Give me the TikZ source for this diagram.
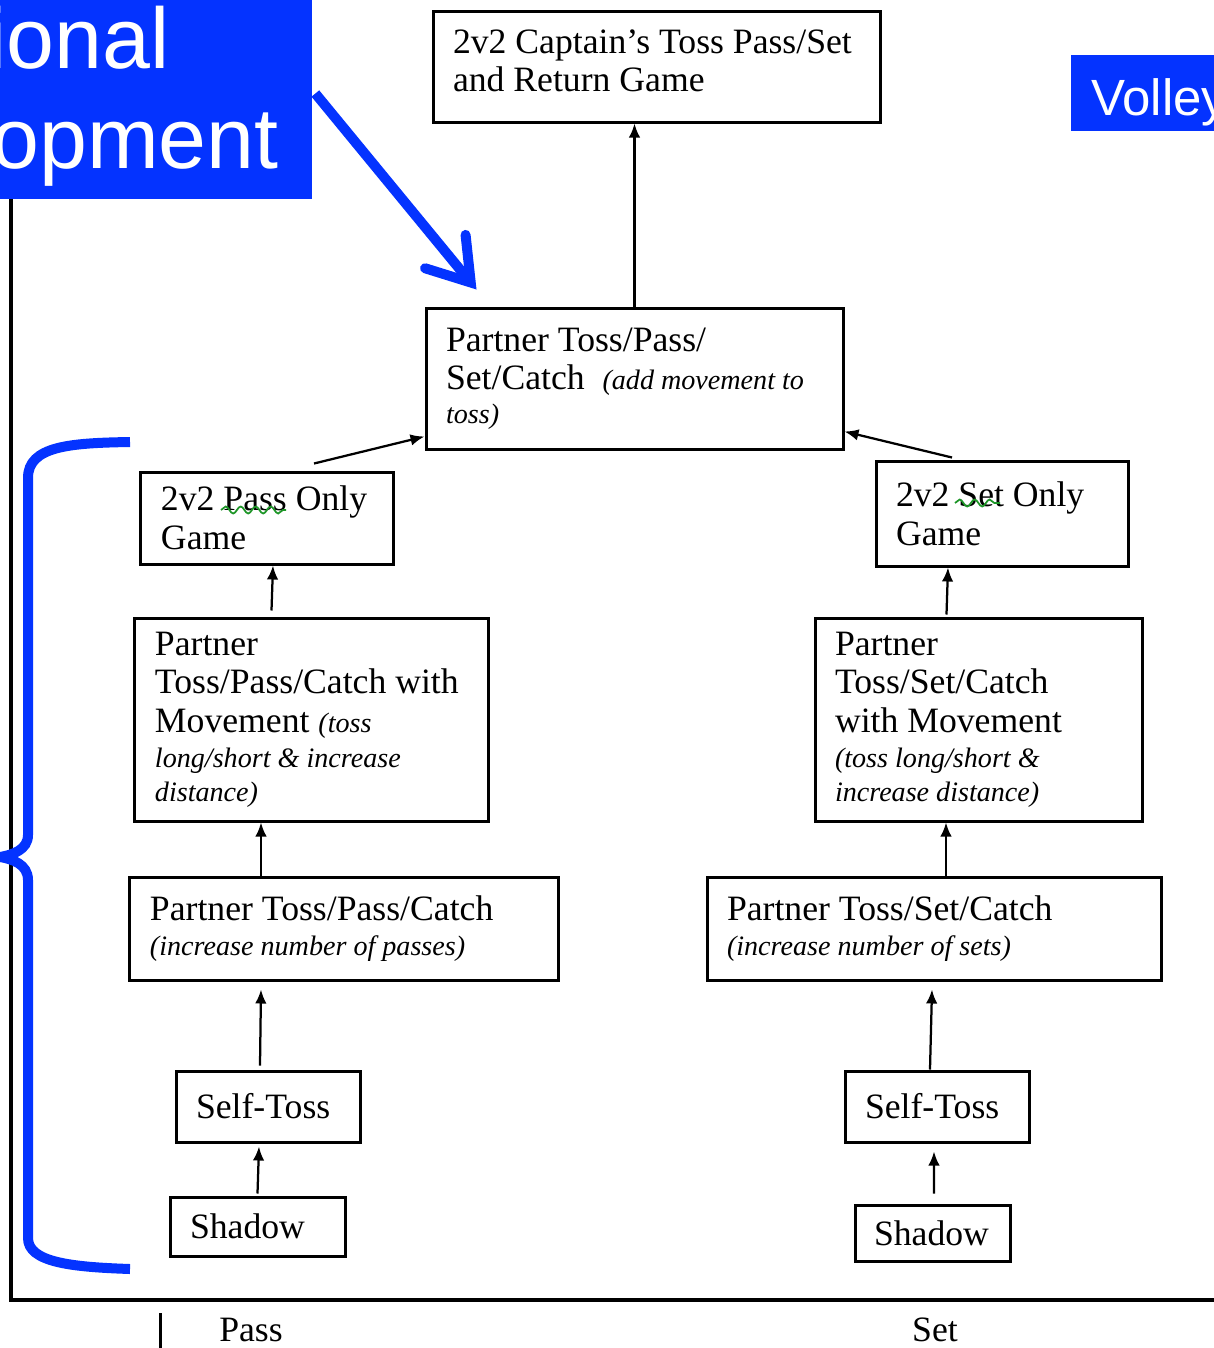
\documentclass[tikz,border=0pt]{standalone}
\usepackage{fontspec}
\setmainfont{Liberation Serif}
\setsansfont{Liberation Sans}
\usepackage{tikz}
\usetikzlibrary{arrows.meta}
\usetikzlibrary{decorations.pathmorphing}
\usepackage{xcolor}
\definecolor{slideblue}{RGB}{4,51,255}
\definecolor{spellgreen}{RGB}{30,150,40}
\newcommand{\itnote}[1]{{\fontsize{16}{19}\selectfont\itshape #1}}

\begin{document}
\begin{tikzpicture}[x=0.2mm,y=-0.2mm]
  \tikzset{
    stage/.style={
      draw,
      rectangle,
      line width=0.6mm,
      inner xsep=4mm,
      inner ysep=0pt,
      align=flush left,
      font=\fontsize{20.3}{22}\selectfont
    },
    link/.style={
      draw,
      line width=0.45mm,
      -{Latex[length=2.8mm,width=2.3mm]}
    },
    banner/.style={
      fill=slideblue,
      inner sep=0pt
    },
    bannertext/.style={
      text=white,
      inner sep=0pt,
      font=\sffamily\fontsize{49}{49}\selectfont
    },
    pointer/.style={
      draw=slideblue,
      line width=2mm,
      -{Straight Barb[length=8mm,width=10.5mm,line cap=round]}
    },
    bracket/.style={
      draw=slideblue,
      line width=2mm
    },
    spell/.style={
      draw=spellgreen,
      line width=0.35mm,
      decorate,
      decoration={snake, amplitude=0.7mm, segment length=3mm}
    }
  }

  \useasboundingbox (0,0) rectangle (1214,1348);
  \clip (0,0) rectangle (1214,1348);

  % axes
  \draw[line width=0.7mm] (11,190) -- (11,1300) -- (1214,1300);
  \draw[line width=0.6mm] (160,1313) -- (160,1348);
  \node[font=\fontsize{20.3}{22}\selectfont] (passlabel) at (251,1330) {Pass};
  \node[font=\fontsize{20.3}{22}\selectfont] (setlabel) at (935,1330) {Set};

  % slide banners
  \node[banner, minimum width=62.4mm, minimum height=39.8mm] (banner) at (156,99.5) {};
  \node[bannertext, anchor=base east] (bannerone) at (170,68) {ional};
  \node[bannertext, anchor=base east] (bannertwo) at (279,168) {opment};
  \node[banner, minimum width=37.8mm, minimum height=15.2mm] (volley) at (1165.5,93) {};
  \node[bannertext, anchor=base west, font=\sffamily\fontsize{29}{29}\selectfont] (volleytext) at (1091,115) {Volley};

  % stages
  \node[stage, minimum height=22.2mm, text width=81.4mm, text depth=28.5pt] (captain) at (656.5,66.5) {2v2 Captain's Toss Pass/Set\\and Return Game};
  \node[stage, minimum height=28.2mm, text width=75.4mm] (partner) at (634.5,378.5) {Partner Toss/Pass/\\Set/Catch\ \ \itnote{(add movement to}\\[-3pt]\itnote{toss)}};
  \node[stage, minimum height=18.4mm, text width=42.4mm] (passonly) at (267,518) {2v2 Pass Only\\Game};
  \node[stage, minimum height=21mm, text width=42.4mm] (setonly) at (1002,513.5) {2v2 Set Only\\Game};
  \node[stage, minimum height=40.6mm, text width=62.6mm] (passmove) at (311.5,719.5) {Partner\\Toss/Pass/Catch with\\Movement \itnote{(toss}\\[-2pt]\itnote{long/short \& increase}\\[-3pt]\itnote{distance)}};
  \node[stage, minimum height=40.6mm, text width=57.4mm] (setmove) at (978.5,719.5) {Partner\\Toss/Set/Catch\\with Movement\\[-2pt]\itnote{(toss long/short \&}\\[-3pt]\itnote{increase distance)}};
  \node[stage, minimum height=20.6mm, text width=77.6mm] (passpair) at (344,928.5) {Partner Toss/Pass/Catch\\[-2pt]\itnote{(increase number of passes)}};
  \node[stage, minimum height=20.6mm, text width=82.8mm] (setpair) at (934,928.5) {Partner Toss/Set/Catch\\[-2pt]\itnote{(increase number of sets)}};
  \node[stage, minimum height=14.2mm, text width=28.8mm] (passself) at (268,1106.5) {Self-Toss};
  \node[stage, minimum height=14.2mm, text width=28.8mm] (setself) at (937,1106.5) {Self-Toss};
  \node[stage, minimum height=11.8mm, text width=27mm] (passshadow) at (257.5,1226.5) {Shadow};
  \node[stage, minimum height=11.2mm, text width=23.4mm, inner xsep=3.8mm] (setshadow) at (932.5,1233) {Shadow};

  % arrows
  \draw[link] (partner.north) -- (partner.north |- captain.south);
  \draw[link] ([shift={(47,-7)}]passonly.north) -- ([shift={(0,-14)}]partner.south west);
  \draw[link] ([shift={(-50,-2)}]setonly.north) -- ([shift={(0,-19)}]partner.south east);
  \draw[link] ([shift={(-40,-6)}]passmove.north) -- ([shift={(6,0)}]passonly.south);
  \draw[link] ([shift={(-32,-2)}]setmove.north) -- ([shift={(-54,0)}]setonly.south);
  \draw[link] ([shift={(-83,0)}]passpair.north) -- ([shift={(-50.5,0)}]passmove.south);
  \draw[link] ([shift={(12,0)}]setpair.north) -- ([shift={(-32.5,0)}]setmove.south);
  \draw[link] ([shift={(-8,-4)}]passself.north) -- ([shift={(-83,8)}]passpair.south);
  \draw[link] ([shift={(-7,0)}]setself.north) -- ([shift={(-2,8)}]setpair.south);
  \draw[link] ([shift={(0,-2)}]passshadow.north) -- ([shift={(-9,3)}]passself.south);
  \draw[link] ([shift={(1.5,-10)}]setshadow.north) -- ([shift={(-3,8)}]setself.south);

  % blue markings
  \draw[pointer] ([shift={(3,-6)}]banner.east) -- ([shift={(52,-17)}]partner.north west);
  \draw[bracket] (130,442) .. controls (70,443) and (28,446) .. (28,478) -- (28,835)
    .. controls (28,850) and (12,855) .. (0,857) .. controls (12,859) and (28,864) .. (28,880)
    -- (28,1238) .. controls (28,1262) and (70,1267) .. (130,1269);
  \draw[spell] (221,510) -- (286,510);
  \draw[spell] (955,503) -- (1000,503);
\end{tikzpicture}
\end{document}
